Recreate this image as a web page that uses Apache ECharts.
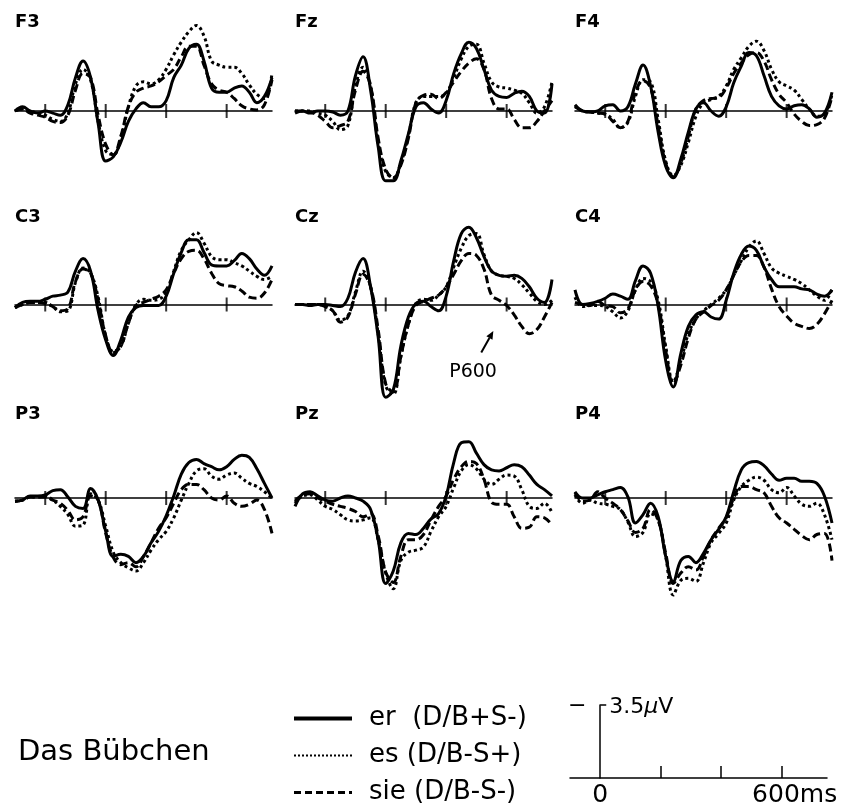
<!DOCTYPE html>
<html><head><meta charset="utf-8">
<script src="https://cdn.jsdelivr.net/npm/echarts@6/dist/echarts.min.js"></script>
<style>html,body{margin:0;padding:0;background:#fff}#c{width:844px;height:809px}</style>
</head><body><div id="c"></div>
<script>
// ---- data (time in ms, amplitude in µV; negative plotted upward) ----
const times = [-100,-75,-50,-25,0,25,50,75,100,125,150,175,200,225,250,275,300,325,350,375,400,425,450,475,500,525,550,575,600,625,650,675,700,725,750];
const channels = ['F3','Fz','F4','C3','Cz','C4','P3','Pz','P4'];
const conditions = ['er  (D/B+S-)','es (D/B-S+)','sie (D/B-S-)'];
const tickMs = [0,200,400,600];
const scaleTickMs = [200,400,600];
const scaleLabelMs = [0,600];
const scaleUv = 3.5;

const F3_er  = [0,-0.2,0,0.1,0,0.1,0.2,-0.3,-1.6,-2.4,-1.6,0.6,2.4,2.2,1.5,0.5,-0.1,-0.4,-0.2,-0.2,-0.5,-1.6,-2.2,-3.0,-3.2,-2.4,-1.1,-0.9,-0.9,-1.1,-1.2,-0.9,-0.4,-0.7,-1.6];
const F3_es  = [0,-0.1,0,0.1,0.2,0.4,0.5,0.1,-1.3,-2.0,-1.5,0.5,1.9,2.1,1.3,-0.2,-1.2,-1.4,-1.3,-1.5,-2.0,-2.7,-3.3,-3.8,-4.1,-3.6,-2.4,-2.2,-2.1,-2.1,-1.8,-1.25,-0.8,-0.6,-1.8];
const F3_sie = [0,-0.1,0.1,0.2,0.3,0.5,0.55,0.2,-1.0,-1.8,-1.6,0.2,1.6,2.1,1.2,-0.2,-0.9,-1.1,-1.2,-1.4,-1.7,-2.0,-2.6,-3.1,-3.1,-2.2,-1.3,-1.0,-0.9,-0.6,-0.25,-0.1,-0.05,-0.3,-1.5];

const Fz_er  = [0.1,0,0.1,0,0,0.05,0.2,0,-1.7,-2.6,-1.0,1.7,3.35,3.35,2.4,1.1,-0.2,-0.4,-0.1,0.1,-0.5,-1.8,-2.75,-3.3,-3.0,-2.0,-1.0,-0.7,-0.65,-0.85,-0.95,-0.7,0,0.1,-1.3];
const Fz_es  = [0,0,0,0.1,0.2,0.5,0.9,0.7,-1.2,-2.1,-1.2,1.5,2.9,3.2,2.5,1.2,-0.4,-0.7,-0.7,-0.7,-0.85,-1.6,-2.5,-3.1,-3.2,-2.3,-1.4,-1.15,-1.1,-1.0,-0.85,-0.4,0.1,-0.2,-1.4];
const Fz_sie = [0,0,0.05,0.2,0.5,0.8,0.7,0.5,-1.0,-1.9,-1.2,1.3,2.8,3.2,2.6,1.3,-0.4,-0.75,-0.8,-0.6,-0.9,-1.4,-1.9,-2.3,-2.5,-2.0,-0.6,-0.1,-0.1,0.4,0.8,0.8,0.5,0,-0.5];

const F4_er  = [-0.3,0,0.05,0,-0.25,-0.3,0,-0.2,-1.3,-2.2,-1.2,1.0,2.65,3.2,2.3,1.0,-0.1,-0.4,0,0.25,-0.2,-1.35,-2.15,-2.8,-2.65,-1.7,-0.7,-0.25,-0.1,-0.25,-0.3,-0.1,0.3,0.1,-0.9];
const F4_es  = [-0.25,0,0.05,0.1,0.15,0.4,0.8,0.55,-0.7,-1.5,-1.4,0.4,2.4,3.1,2.6,1.5,0.25,-0.4,-0.55,-0.7,-1.2,-2.0,-2.55,-3.1,-3.35,-2.9,-2.0,-1.4,-1.2,-1.0,-0.55,-0.1,0.25,0.15,-0.8];
const F4_sie = [-0.2,0,0.05,0.1,0.15,0.5,0.8,0.5,-0.9,-1.45,-1.1,0.7,2.5,3.15,2.5,1.2,-0.1,-0.5,-0.6,-0.65,-1.1,-1.8,-2.3,-2.7,-2.8,-2.4,-1.5,-0.8,-0.4,0.15,0.5,0.7,0.65,0.35,-0.7];

const C3_er  = [0.15,-0.1,-0.15,-0.15,-0.25,-0.4,-0.45,-0.6,-1.6,-2.2,-1.6,0.3,1.7,2.45,1.7,0.6,0.15,0.05,0.05,0.05,-0.4,-1.5,-2.5,-3.1,-3.1,-2.5,-1.9,-1.85,-1.85,-2.1,-2.45,-2.2,-1.7,-1.4,-1.85];
const C3_es  = [0.15,0,-0.1,-0.1,-0.1,0.1,0.35,0.3,-1.05,-1.75,-1.5,-0.35,1.5,2.25,2.0,0.9,0,-0.25,-0.2,-0.25,-0.55,-1.6,-2.6,-3.1,-3.45,-2.95,-2.3,-2.15,-2.15,-2.0,-1.85,-1.6,-1.35,-1.2,-1.35];
const C3_sie = [0.15,0,-0.1,-0.1,-0.05,0.1,0.3,0.2,-1.1,-1.7,-1.5,-0.2,1.5,2.3,2.0,0.9,0.05,-0.1,-0.25,-0.4,-0.7,-1.5,-2.2,-2.55,-2.6,-2.2,-1.5,-1.0,-0.9,-0.85,-0.65,-0.35,-0.3,-0.55,-1.2];

const Cz_er  = [0,0,0.05,0,0,0.05,0.1,-0.3,-1.55,-2.2,-0.85,1.55,4.45,4.1,2.0,0.6,-0.05,-0.15,0.1,0.3,-0.4,-2.1,-3.4,-3.7,-3.2,-2.3,-1.6,-1.4,-1.35,-1.4,-1.25,-0.85,-0.3,-0.1,-1.2];
const Cz_es  = [0,0,0,0,0.1,0.3,0.75,0.55,-0.6,-1.6,-0.85,1.4,3.9,4.3,2.5,0.95,-0.05,-0.25,-0.2,-0.45,-0.85,-1.8,-2.7,-3.3,-3.4,-2.4,-1.6,-1.4,-1.35,-1.25,-0.95,-0.55,-0.15,0,-0.2];
const Cz_sie = [0,0,0,0,0.1,0.3,0.85,0.6,-0.5,-1.45,-0.85,1.2,3.8,4.2,2.5,0.95,0.05,-0.15,-0.3,-0.45,-0.85,-1.45,-2.1,-2.45,-2.35,-1.7,-0.45,-0.2,0.05,0.5,1.05,1.4,1.2,0.6,-0.1];

const C4_er  = [-0.7,0,-0.05,-0.15,-0.3,-0.5,-0.4,-0.25,-1.15,-1.85,-1.5,0.1,2.7,3.95,2.35,1.05,0.5,0.35,0.6,0.7,-0.2,-1.5,-2.4,-2.8,-2.6,-1.8,-1.2,-0.85,-0.85,-0.85,-0.75,-0.7,-0.5,-0.4,-0.7];
const C4_es  = [-0.35,0.1,0.05,0.05,0.1,0.35,0.65,0.3,-0.7,-1.25,-1.1,-0.2,2.0,3.7,2.7,1.4,0.7,0.3,0,-0.3,-0.7,-1.4,-2.1,-2.75,-3.05,-2.45,-1.75,-1.5,-1.35,-1.2,-1.0,-0.7,-0.4,-0.2,-0.75];
const C4_sie = [-0.1,0,0.05,-0.15,0.05,0.1,0.4,0.2,-0.7,-1.1,-0.9,0,2.2,3.8,2.9,1.6,0.7,0.35,0.05,-0.2,-0.7,-1.4,-2.05,-2.35,-2.35,-1.8,-0.75,0.1,0.55,0.9,1.05,1.15,0.95,0.45,-0.2];

const P3_er  = [0.15,0.1,-0.1,-0.1,-0.15,-0.35,-0.4,-0.05,0.4,0.5,-0.45,0.1,1.6,2.8,2.7,2.8,3.1,2.8,2.15,1.6,0.85,-0.1,-1.15,-1.7,-1.85,-1.65,-1.5,-1.35,-1.5,-1.85,-2.05,-1.95,-1.4,-0.7,0];
const P3_es  = [0.15,0.1,-0.05,-0.05,-0.1,0.1,0.4,0.8,1.35,1.3,-0.2,0.1,1.35,2.6,3.1,3.35,3.5,3.1,2.5,2.0,1.6,0.95,0.1,-0.7,-1.3,-1.4,-1.05,-0.9,-1.1,-1.2,-0.95,-0.7,-0.55,-0.3,0];
const P3_sie = [0.15,0.1,-0.05,-0.05,-0.05,0.1,0.25,0.6,1.05,0.9,-0.1,0.1,1.7,2.85,3.2,3.1,3.3,2.8,2.15,1.45,0.95,0.25,-0.4,-0.65,-0.65,-0.4,0,0.1,-0.1,0.25,0.4,0.3,0.1,0.55,1.7];

const Pz_er  = [0.4,-0.2,-0.3,-0.1,0.1,0.15,0,-0.1,0,0.15,0.55,2.0,4.1,3.5,2.15,1.7,1.75,1.45,1.0,0.75,-0.1,-1.7,-2.65,-2.7,-2.15,-1.6,-1.35,-1.3,-1.45,-1.6,-1.5,-1.1,-0.65,-0.4,-0.1];
const Pz_es  = [0.25,-0.1,-0.15,0.1,0.4,0.55,0.8,1.05,1.1,1.05,0.95,2.0,3.6,4.35,3.0,2.6,2.5,2.35,1.6,0.9,0.4,-0.5,-1.3,-1.6,-1.4,-0.9,-0.65,-0.9,-1.1,-1.05,-0.4,0.4,0.5,0.25,0.7];
const Pz_sie = [0.15,-0.15,-0.2,0,0.15,0.3,0.4,0.5,0.65,0.9,0.75,1.8,3.55,4.05,2.8,2.0,2.0,1.75,1.05,0.4,-0.1,-0.9,-1.5,-1.75,-1.65,-0.9,0.2,0.3,0.3,0.9,1.45,1.4,0.9,0.95,1.3];

const P4_er  = [-0.3,0,0,-0.15,-0.3,-0.4,-0.5,-0.05,1.2,0.8,0.25,0.9,2.8,4.0,3.0,2.8,3.1,2.65,2.0,1.5,0.9,-0.3,-1.35,-1.7,-1.75,-1.55,-1.15,-0.85,-0.95,-0.95,-0.8,-0.8,-0.7,-0.1,1.2];
const P4_es  = [-0.15,0.25,0.1,0.25,0.3,0.4,0.55,1.15,1.85,1.65,0.75,1.05,2.8,4.65,3.95,3.85,4.0,3.1,2.15,1.7,1.2,0.1,-0.55,-0.85,-1.0,-0.85,-0.4,-0.25,-0.5,-0.1,0.3,0.4,0.25,0.8,2.0];
const P4_sie = [-0.25,0.15,0.1,-0.3,0,0.25,0.55,1.1,1.65,1.45,0.55,1.05,2.65,4.1,3.6,3.3,3.45,2.8,2.0,1.45,0.95,0,-0.55,-0.55,-0.4,-0.25,0.4,0.95,1.2,1.5,1.8,2.0,1.75,1.7,3.0];

const p600Anchor = {tip:[556,1.27], tail:[516,2.3], text:[489,3.25]};

// ---- build ----
const waves = {
  F3:[F3_er,F3_es,F3_sie], Fz:[Fz_er,Fz_es,Fz_sie], F4:[F4_er,F4_es,F4_sie],
  C3:[C3_er,C3_es,C3_sie], Cz:[Cz_er,Cz_es,Cz_sie], C4:[C4_er,C4_es,C4_sie],
  P3:[P3_er,P3_es,P3_sie], Pz:[Pz_er,Pz_es,Pz_sie], P4:[P4_er,P4_es,P4_sie]
};
const FONT = 'DejaVu Sans';
const colLeft = [15, 295, 575];
const rowBase = [111, 304.5, 498];
const titleTop = [13, 208, 405];
const pxPerUv = 73 / 3.5;
const yMin = -4.5, yMax = 5;
const traceStyles = [
  {type:'solid', width:3},
  {type:[3,3], width:3},
  {type:[8,4], width:3}
];

const grid = [], xAxis = [], yAxis = [], series = [], title = [];
channels.forEach((ch, i) => {
  const c = i % 3, r = Math.floor(i / 3);
  grid.push({left: colLeft[c], top: rowBase[r] + yMin * pxPerUv, width: 257, height: (yMax - yMin) * pxPerUv,
    containLabel:false, outerBoundsMode:'none'});
  xAxis.push({gridIndex:i, type:'value', min:-100, max:750,
    axisLine:{show:true, onZero:true, lineStyle:{color:'#000', width:1.5}},
    axisTick:{show:false}, axisLabel:{show:false}, splitLine:{show:false}});
  yAxis.push({gridIndex:i, type:'value', min:yMin, max:yMax, inverse:true, show:false,
    axisLine:{show:false}, splitLine:{show:false}});
  title.push({text: ch, left: colLeft[c], top: titleTop[r], padding:0,
    textStyle:{fontFamily:FONT, fontSize:18, fontWeight:'bold', color:'#000'}});
  series.push({type:'scatter', xAxisIndex:i, yAxisIndex:i, silent:true, z:1,
    symbol:'rect', symbolSize:[2,14], itemStyle:{color:'#000'},
    data: tickMs.map(t => [t, 0])});
  waves[ch].forEach((arr, k) => {
    series.push({type:'line', name: conditions[k], xAxisIndex:i, yAxisIndex:i,
      symbol:'none', showSymbol:false, smooth:0.4, clip:false, z:2,
      itemStyle:{color:'#000'},
      lineStyle:{color:'#000', width:traceStyles[k].width, type:traceStyles[k].type, cap:'butt'},
      data: times.map((t, j) => [t, arr[j]])});
  });
});

// scale bar
grid.push({left:570, top:705, width:257, height:73, containLabel:false, outerBoundsMode:'none'});
xAxis.push({gridIndex:9, type:'value', min:-100, max:750,
  axisLine:{show:true, onZero:true, lineStyle:{color:'#000', width:1.5}},
  axisTick:{show:true, inside:true, length:12, customValues: scaleTickMs, lineStyle:{color:'#000', width:1.5}},
  axisLabel:{show:true, customValues: scaleLabelMs, margin:5, color:'#000', fontFamily:FONT, fontSize:25,
    formatter: v => v === 600 ? '{ms|600ms}' : '{z|' + v + '}',
    rich:{ms:{fontFamily:FONT, fontSize:25, color:'#000', padding:[0,0,0,26]},
          z:{fontFamily:FONT, fontSize:25, color:'#000'}}},
  splitLine:{show:false}});
yAxis.push({gridIndex:9, type:'value', min:-scaleUv, max:0, inverse:true,
  axisLine:{show:true, onZero:true, lineStyle:{color:'#000', width:1.5}},
  axisTick:{show:true, inside:true, length:6, customValues:[-scaleUv], lineStyle:{color:'#000', width:1.5}},
  axisLabel:{show:false},
  splitLine:{show:false}});

title.push({text:'Das Bübchen', left:18, top:738, padding:0, textStyle:{fontFamily:FONT, fontSize:29, fontWeight:'normal', color:'#000'}});

const option = {
  animation:false,
  backgroundColor:'#fff',
  title, grid, xAxis, yAxis, series,
  legend:{
    orient:'vertical', left:292, top:704, padding:0, itemWidth:58, itemHeight:14, itemGap:8,
    selectedMode:false, height:110,
    textStyle:{fontFamily:FONT, fontSize:26, color:'#000', lineHeight:29, padding:[0,0,0,12]},
    data:[
      {name:conditions[0], itemStyle:{opacity:0}, lineStyle:{color:'#000', width:4, type:'solid'}},
      {name:conditions[1], itemStyle:{opacity:0}, lineStyle:{color:'#000', width:2, type:[2,2]}},
      {name:conditions[2], itemStyle:{opacity:0}, lineStyle:{color:'#000', width:3, type:[7,4]}}
    ]
  }
};
const chart = echarts.init(document.getElementById('c'));
chart.setOption(option);

// annotations anchored to axis coordinates
const tip = chart.convertToPixel({gridIndex:4}, p600Anchor.tip);
const tail = chart.convertToPixel({gridIndex:4}, p600Anchor.tail);
const txt = chart.convertToPixel({gridIndex:4}, p600Anchor.text);
const sTop = chart.convertToPixel({gridIndex:9}, [0, -scaleUv]);
const dx = tip[0] - tail[0], dy = tip[1] - tail[1], L = Math.hypot(dx, dy);
const ux = dx / L, uy = dy / L, hl = 8, hw = 3.5;
const base = [tip[0] - ux * hl, tip[1] - uy * hl];
chart.setOption({graphic:[
  {type:'line', shape:{x1:tail[0], y1:tail[1], x2:base[0], y2:base[1]}, style:{stroke:'#000', lineWidth:2}},
  {type:'polygon', shape:{points:[tip, [base[0] - uy * hw, base[1] + ux * hw], [base[0] + uy * hw, base[1] - ux * hw]]}, style:{fill:'#000'}},
  {type:'text', x:txt[0], y:txt[1], style:{text:'P600', fontFamily:FONT, fontSize:19, fill:'#000', align:'center', verticalAlign:'middle'}},
  {type:'text', x:sTop[0] + 9, y:sTop[1] + 2, style:{
    text:'3.5{u|µ}V', fontFamily:FONT, fontSize:22, fill:'#000', align:'left', verticalAlign:'middle',
    rich:{u:{fontStyle:'italic', fontFamily:FONT, fontSize:22, fill:'#000'}}}},
  {type:'text', x:sTop[0] - 23, y:sTop[1] + 1, style:{text:'\u2212', fontFamily:FONT, fontSize:22, fill:'#000', align:'center', verticalAlign:'middle'}}
]});
</script></body></html>
